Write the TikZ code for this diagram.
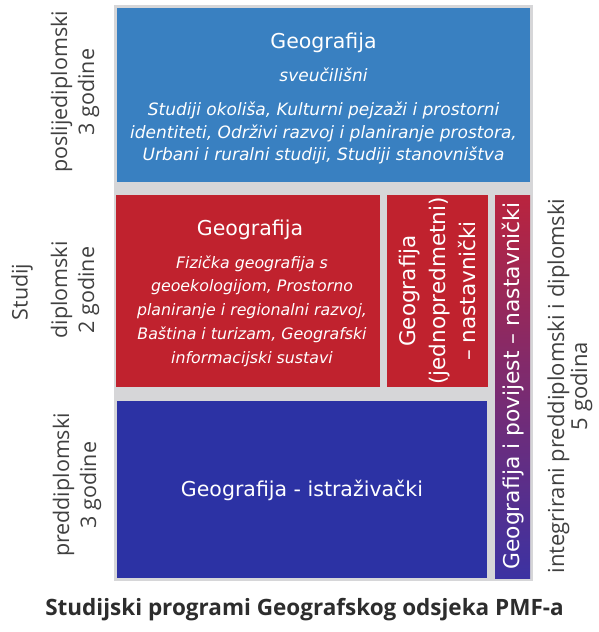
\documentclass[tikz,border=0pt]{standalone}
\usepackage{fontspec}
\setmainfont{DejaVu Sans}
\newfontfamily\sidefont{Open Sans}
\definecolor{backgray}{RGB}{214,214,216}
\definecolor{topblue}{RGB}{57,128,193}
\definecolor{redprog}{RGB}{192,34,46}
\definecolor{darkblue}{RGB}{44,50,164}
\definecolor{purpletop}{RGB}{186,36,62}
\definecolor{purplebot}{RGB}{60,50,162}
\definecolor{captiongray}{RGB}{45,45,45}

\begin{document}
\begin{tikzpicture}[x=1pt,y=-1pt]
    \tikzstyle{prog}=[draw=none, inner sep=0pt, anchor=north west]
    \tikzstyle{naslov}=[text=white, inner sep=0pt, anchor=base, font=\fontsize{20.5}{24}\selectfont]
    \tikzstyle{smjer}=[text=white, inner sep=0pt, align=center, font=\fontsize{17}{22.5}\selectfont\itshape]
    \tikzstyle{razina}=[text=black!75, inner sep=0pt, align=center, rotate=90, font=\sidefont\fontsize{21.5}{27}\selectfont]
    \useasboundingbox (0,0) rectangle (599,632);
    \fill[backgray] (114,5) rectangle (533,581);
    \node[prog, fill=topblue, minimum width=413, minimum height=174] (posl) at (117,8) {};
    \node[prog, fill=redprog, minimum width=264, minimum height=192] (dipl) at (116,195) {};
    \node[prog, fill=redprog, minimum width=101, minimum height=192] (jedno) at (387,195) {};
    \node[prog, top color=purpletop, bottom color=purplebot, minimum width=35, minimum height=383] (integ) at (495,195) {};
    \node[prog, fill=darkblue, minimum width=370, minimum height=177] (predd) at (117,401) {};
    \node[naslov] (poslnaslov) at (323.5,48) {Geografija};
    \node[smjer, anchor=base] (posltip) at (323.5,81) {sveučilišni};
    \node[smjer] (poslsmjer) at (323.5,133) {Studiji okoliša, Kulturni pejzaži i prostorni\\identiteti, Održivi razvoj i planiranje prostora,\\Urbani i ruralni studiji, Studiji stanovništva};
    \node[naslov] (diplnaslov) at (250,235) {Geografija};
    \node[smjer, font=\fontsize{15.8}{23.7}\selectfont\itshape] (diplsmjer) at (252,311) {Fizička geografija s\\geoekologijom, Prostorno\\planiranje i regionalni razvoj,\\Baština i turizam, Geografski\\informacijski sustavi};
    \node[naslov, anchor=center, rotate=90, align=center, font=\fontsize{21.5}{30}\selectfont] (jednotekst) at (437.5,291) {Geografija\\(jednopredmetni)\\– nastavnički};
    \node[naslov, anchor=center, rotate=90, font=\fontsize{21.8}{26}\selectfont] (integtekst) at (513,386) {Geografija i povijest – nastavnički};
    \node[naslov] (preddnaslov) at (302,496) {Geografija - istraživački};
    \node[razina] (lposl) at (75,92) {poslijediplomski\\3 godine};
    \node[razina] (lstudij) at (22,292) {Studij};
    \node[razina] (ldipl) at (75,290) {diplomski\\2 godine};
    \node[razina] (lpredd) at (77,485) {preddiplomski\\3 godine};
    \node[razina, font=\sidefont\fontsize{22}{23}\selectfont] (linteg) at (570,386) {integrirani preddiplomski i diplomski\\5 godina};
    \node[text=captiongray, inner sep=0pt, anchor=base, font=\sidefont\bfseries\fontsize{22.5}{26}\selectfont] (naslov) at (304.5,615) {Studijski programi Geografskog odsjeka PMF-a};
\end{tikzpicture}
\end{document}
